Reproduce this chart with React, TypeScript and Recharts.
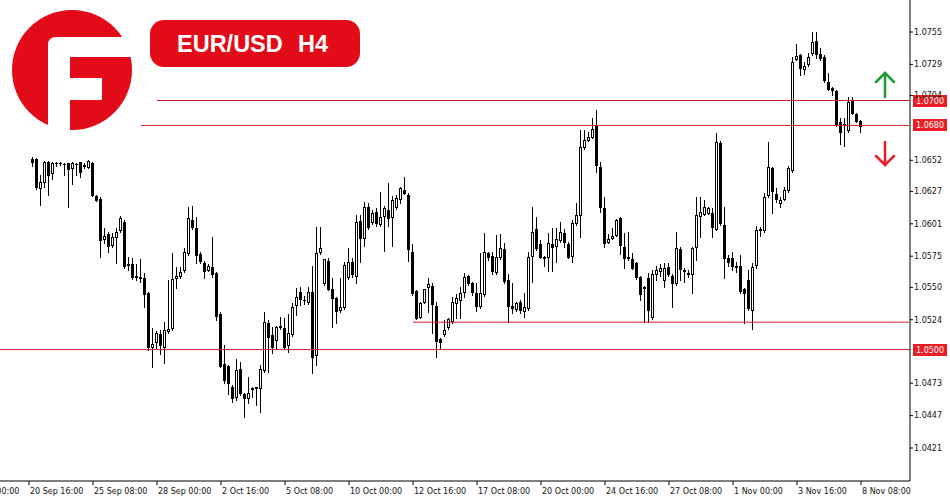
import React from 'react';
import { ComposedChart, Bar, XAxis, YAxis, ReferenceLine } from 'recharts';

const C = {
  red: '#e30b17',
  line: '#cc1f2d',
  tag: '#ec1c24',
  green: '#1f9a35',
  ink: '#111',
};
const FONT = 'DejaVu Sans, Verdana, sans-serif';

// H4 time slots that carry a label on the time axis (slot index into ROWS)
const TICK_SLOTS = [0, 16, 32, 48, 64, 80, 96, 112, 128, 144, 160, 176, 192, 208, 224];
const TICK_LABELS = [
  '18 Sep 00:00', '20 Sep 16:00', '25 Sep 08:00', '28 Sep 00:00', '2 Oct 16:00',
  '5 Oct 08:00', '10 Oct 00:00', '12 Oct 16:00', '17 Oct 08:00', '20 Oct 00:00',
  '24 Oct 16:00', '27 Oct 08:00', '1 Nov 00:00', '3 Nov 16:00', '8 Nov 08:00',
];
const PRICE_TICKS = [1.0755, 1.0729, 1.0704, 1.0652, 1.0627, 1.0601, 1.0575, 1.055, 1.0524, 1.0473, 1.0447, 1.0421];

const LEAD_SLOTS = 17; // empty slots before the first visible candle
const TAIL_SLOTS = 12; // empty shift space after the last candle

// [open, high, low, close]
const CANDLES: number[][] = [
  [1.06530, 1.06546, 1.06474, 1.06506], [1.06530, 1.06538, 1.06289, 1.06305], [1.06297, 1.06402, 1.06161, 1.06346],
  [1.06346, 1.06514, 1.06305, 1.06506], [1.06506, 1.06514, 1.06241, 1.06402], [1.06418, 1.06506, 1.06370, 1.06498],
  [1.06498, 1.06506, 1.06474, 1.06495], [1.06498, 1.06506, 1.06482, 1.06500], [1.06490, 1.06498, 1.06402, 1.06488],
  [1.06498, 1.06500, 1.06145, 1.06450], [1.06458, 1.06506, 1.06329, 1.06498], [1.06490, 1.06498, 1.06402, 1.06492],
  [1.06506, 1.06510, 1.06386, 1.06426], [1.06482, 1.06498, 1.06458, 1.06474], [1.06466, 1.06522, 1.06458, 1.06514],
  [1.06498, 1.06506, 1.06233, 1.06241], [1.06233, 1.06241, 1.06193, 1.06201], [1.06209, 1.06225, 1.05743, 1.05880],
  [1.05888, 1.05976, 1.05856, 1.05912], [1.05928, 1.05944, 1.05783, 1.05832], [1.05840, 1.05936, 1.05824, 1.05904],
  [1.05904, 1.05976, 1.05695, 1.05944], [1.05960, 1.06073, 1.05944, 1.06056], [1.06024, 1.06040, 1.05655, 1.05671],
  [1.05687, 1.05743, 1.05639, 1.05679], [1.05687, 1.05735, 1.05567, 1.05583], [1.05591, 1.05687, 1.05559, 1.05583],
  [1.05583, 1.05727, 1.05543, 1.05575], [1.05575, 1.05615, 1.05342, 1.05446], [1.05454, 1.05462, 1.04996, 1.05021],
  [1.05021, 1.05173, 1.04860, 1.05045], [1.05061, 1.05149, 1.05013, 1.05133], [1.05125, 1.05157, 1.04964, 1.05037],
  [1.05021, 1.05221, 1.04892, 1.05157], [1.05149, 1.05559, 1.05133, 1.05165], [1.05173, 1.05775, 1.05157, 1.05567],
  [1.05575, 1.05663, 1.05494, 1.05591], [1.05591, 1.05663, 1.05575, 1.05623], [1.05639, 1.05816, 1.05623, 1.05783],
  [1.05775, 1.06145, 1.05759, 1.06056], [1.06040, 1.06153, 1.05968, 1.05984], [1.05976, 1.06064, 1.05695, 1.05759],
  [1.05767, 1.05783, 1.05695, 1.05711], [1.05695, 1.05711, 1.05575, 1.05631], [1.05639, 1.05687, 1.05631, 1.05671],
  [1.05663, 1.05904, 1.05583, 1.05607], [1.05615, 1.05623, 1.05237, 1.05270], [1.05286, 1.05302, 1.04860, 1.04868],
  [1.04884, 1.05037, 1.04732, 1.04756], [1.04868, 1.04876, 1.04643, 1.04732], [1.04699, 1.04715, 1.04579, 1.04611],
  [1.04619, 1.04924, 1.04595, 1.04836], [1.04844, 1.04900, 1.04635, 1.04651], [1.04643, 1.04651, 1.04458, 1.04611],
  [1.04611, 1.04780, 1.04571, 1.04651], [1.04683, 1.04699, 1.04619, 1.04691], [1.04691, 1.04699, 1.04555, 1.04699],
  [1.04691, 1.04876, 1.04499, 1.04844], [1.04836, 1.05302, 1.04820, 1.05221], [1.05213, 1.05237, 1.04820, 1.05101],
  [1.05117, 1.05181, 1.04972, 1.05021], [1.05077, 1.05189, 1.05005, 1.05181], [1.05181, 1.05262, 1.05165, 1.05189],
  [1.05173, 1.05254, 1.05013, 1.05021], [1.05037, 1.05286, 1.04980, 1.05133], [1.05125, 1.05374, 1.05109, 1.05342],
  [1.05358, 1.05494, 1.05278, 1.05422], [1.05462, 1.05502, 1.05358, 1.05406], [1.05398, 1.05430, 1.05366, 1.05400],
  [1.05382, 1.05502, 1.05366, 1.05462], [1.05462, 1.05671, 1.04812, 1.04940], [1.04956, 1.05984, 1.04876, 1.05775],
  [1.05783, 1.05984, 1.05767, 1.05816], [1.05535, 1.05727, 1.05519, 1.05727], [1.05711, 1.05735, 1.05478, 1.05486],
  [1.05486, 1.05575, 1.05181, 1.05414], [1.05414, 1.05422, 1.05213, 1.05310], [1.05318, 1.05575, 1.05302, 1.05342],
  [1.05342, 1.05703, 1.05326, 1.05679], [1.05583, 1.05816, 1.05567, 1.05703], [1.05703, 1.05735, 1.05583, 1.05607],
  [1.05591, 1.06081, 1.05535, 1.06024], [1.06032, 1.06081, 1.05703, 1.05896], [1.05896, 1.06185, 1.05832, 1.06145],
  [1.06145, 1.06177, 1.05968, 1.05984], [1.06024, 1.06121, 1.06008, 1.06097], [1.06105, 1.06137, 1.05992, 1.06016],
  [1.06008, 1.06265, 1.05992, 1.06064], [1.06073, 1.06153, 1.05791, 1.06137], [1.06121, 1.06338, 1.05992, 1.06056],
  [1.06064, 1.06233, 1.05832, 1.06201], [1.06145, 1.06241, 1.06129, 1.06217], [1.06209, 1.06305, 1.06177, 1.06297],
  [1.06281, 1.06386, 1.06249, 1.06257], [1.06241, 1.06257, 1.05711, 1.05808], [1.05783, 1.05848, 1.05438, 1.05454],
  [1.05470, 1.05478, 1.05246, 1.05254], [1.05262, 1.05382, 1.05254, 1.05374], [1.05382, 1.05486, 1.05374, 1.05486],
  [1.05502, 1.05575, 1.05302, 1.05527], [1.05510, 1.05535, 1.05133, 1.05366], [1.05350, 1.05382, 1.04940, 1.05069],
  [1.05085, 1.05093, 1.05005, 1.05061], [1.05125, 1.05237, 1.05109, 1.05157], [1.05181, 1.05254, 1.05165, 1.05246],
  [1.05229, 1.05422, 1.05213, 1.05382], [1.05374, 1.05446, 1.05254, 1.05414], [1.05398, 1.05502, 1.05254, 1.05454],
  [1.05462, 1.05615, 1.05422, 1.05583], [1.05591, 1.05599, 1.05519, 1.05535], [1.05535, 1.05543, 1.05438, 1.05462],
  [1.05454, 1.05535, 1.05310, 1.05350], [1.05350, 1.05775, 1.05334, 1.05454], [1.05446, 1.05936, 1.05430, 1.05783],
  [1.05775, 1.05783, 1.05719, 1.05743], [1.05751, 1.05783, 1.05607, 1.05631], [1.05623, 1.05920, 1.05607, 1.05743],
  [1.05743, 1.05928, 1.05727, 1.05816], [1.05808, 1.05856, 1.05535, 1.05551], [1.05559, 1.05607, 1.05221, 1.05350],
  [1.05350, 1.05535, 1.05294, 1.05334], [1.05326, 1.05382, 1.05310, 1.05374], [1.05382, 1.05398, 1.05294, 1.05318],
  [1.05310, 1.05454, 1.05262, 1.05342], [1.05334, 1.05783, 1.05318, 1.05743], [1.05751, 1.06145, 1.05543, 1.05944],
  [1.05968, 1.06064, 1.05799, 1.05816], [1.05848, 1.05880, 1.05735, 1.05743], [1.05743, 1.05751, 1.05671, 1.05735],
  [1.05743, 1.05936, 1.05631, 1.05856], [1.05848, 1.05976, 1.05631, 1.05824], [1.05832, 1.05976, 1.05703, 1.05888],
  [1.05880, 1.06024, 1.05864, 1.05944], [1.05936, 1.05968, 1.05824, 1.05864], [1.05848, 1.05864, 1.05735, 1.05743],
  [1.05751, 1.06040, 1.05703, 1.06016], [1.06016, 1.06177, 1.06000, 1.06081], [1.06081, 1.06763, 1.05904, 1.06627],
  [1.06627, 1.06763, 1.06611, 1.06683], [1.06683, 1.06747, 1.06675, 1.06707], [1.06707, 1.06859, 1.06699, 1.06771],
  [1.06795, 1.06924, 1.06426, 1.06482], [1.06466, 1.06506, 1.06105, 1.06145], [1.06137, 1.06225, 1.05824, 1.05856],
  [1.05864, 1.05928, 1.05856, 1.05888], [1.05896, 1.05976, 1.05888, 1.05912], [1.05920, 1.06048, 1.05912, 1.06040],
  [1.06056, 1.06064, 1.05767, 1.05840], [1.05824, 1.05936, 1.05655, 1.05735], [1.05743, 1.05944, 1.05719, 1.05735],
  [1.05727, 1.05775, 1.05647, 1.05655], [1.05695, 1.05703, 1.05567, 1.05583], [1.05583, 1.05591, 1.05398, 1.05446],
  [1.05502, 1.05510, 1.05221, 1.05494], [1.05575, 1.05615, 1.05221, 1.05318], [1.05262, 1.05639, 1.05246, 1.05607],
  [1.05607, 1.05671, 1.05559, 1.05639], [1.05631, 1.05687, 1.05591, 1.05655], [1.05559, 1.05695, 1.05502, 1.05655],
  [1.05663, 1.05695, 1.05591, 1.05607], [1.05591, 1.05607, 1.05342, 1.05535], [1.05535, 1.05944, 1.05519, 1.05816],
  [1.05808, 1.05824, 1.05559, 1.05647], [1.05639, 1.05655, 1.05543, 1.05631], [1.05607, 1.05639, 1.05583, 1.05615],
  [1.05607, 1.05824, 1.05454, 1.05816], [1.05824, 1.06225, 1.05719, 1.06081], [1.06073, 1.06225, 1.05904, 1.06105],
  [1.06089, 1.06201, 1.06081, 1.06145], [1.06097, 1.06145, 1.06089, 1.06137], [1.06097, 1.06137, 1.05904, 1.05984],
  [1.05968, 1.06739, 1.05960, 1.06667], [1.06659, 1.06675, 1.06000, 1.06016], [1.06000, 1.06145, 1.05575, 1.05735],
  [1.05735, 1.05759, 1.05671, 1.05703], [1.05735, 1.05783, 1.05639, 1.05671], [1.05671, 1.05703, 1.05623, 1.05667],
  [1.05671, 1.05759, 1.05454, 1.05470], [1.05486, 1.05494, 1.05213, 1.05454], [1.05559, 1.05639, 1.05318, 1.05334],
  [1.05318, 1.05695, 1.05165, 1.05663], [1.05679, 1.05992, 1.05655, 1.05960], [1.05960, 1.05984, 1.05912, 1.05968],
  [1.05960, 1.06257, 1.05944, 1.06225], [1.06241, 1.06667, 1.06225, 1.06466], [1.06458, 1.06466, 1.06097, 1.06273],
  [1.06249, 1.06297, 1.06185, 1.06209], [1.06177, 1.06225, 1.06145, 1.06201], [1.06209, 1.06305, 1.06201, 1.06281],
  [1.06281, 1.06474, 1.06265, 1.06458], [1.06442, 1.07349, 1.06426, 1.07309], [1.07333, 1.07454, 1.07325, 1.07357],
  [1.07365, 1.07373, 1.07205, 1.07261], [1.07253, 1.07309, 1.07213, 1.07277], [1.07293, 1.07381, 1.07277, 1.07349],
  [1.07381, 1.07550, 1.07365, 1.07470], [1.07478, 1.07550, 1.07341, 1.07373], [1.07373, 1.07422, 1.07325, 1.07341],
  [1.07349, 1.07365, 1.07149, 1.07165], [1.07149, 1.07221, 1.07084, 1.07092], [1.07100, 1.07108, 1.07044, 1.07084],
  [1.07076, 1.07084, 1.06795, 1.06811], [1.06827, 1.06859, 1.06651, 1.06747], [1.06811, 1.06859, 1.06635, 1.06803],
  [1.06763, 1.07028, 1.06747, 1.06988], [1.06996, 1.07028, 1.06892, 1.06900], [1.06892, 1.06900, 1.06827, 1.06835],
  [1.06835, 1.06843, 1.06747, 1.06795],
];

// horizontal levels: price, first candle index it starts from (null = full width), tag text
const LEVELS = [
  { price: 1.07, from: 31, tag: '1.0700' },
  { price: 1.068, from: 27, tag: '1.0680' },
  { price: 1.0522, from: 95, tag: null },
  { price: 1.05, from: null, tag: '1.0500' },
];

const ROWS = [
  ...Array.from({ length: LEAD_SLOTS }, () => null),
  ...CANDLES,
  ...Array.from({ length: TAIL_SLOTS }, () => null),
].map((cd, i) => (cd ? { i, o: cd[0], h: cd[1], l: cd[2], c: cd[3] } : { i, o: null, h: null, l: null, c: null }));
const LAST_SLOT = ROWS.length - 1;

function Candle(props: any) {
  const { x, y, width, height, payload } = props;
  if (!payload || payload.o == null || !isFinite(y) || !isFinite(height)) return null;
  const { o, h, l, c } = payload;
  const top = Math.min(y, y + height);
  const span = Math.abs(height);
  const toY = (p: number) => (h === l ? top : top + ((h - p) / (h - l)) * span);
  const cx = Math.round(x + width / 2 - 0.5);
  const yH = Math.round(toY(h));
  const yL = Math.round(toY(l));
  const bt = Math.round(toY(Math.max(o, c)));
  const bb = Math.round(toY(Math.min(o, c)));
  const bh = Math.max(1, bb - bt + 1);
  return (
    <g shapeRendering="crispEdges">
      <rect x={cx} y={yH} width={1} height={Math.max(1, yL - yH + 1)} fill="#000" />
      <rect x={cx - 1} y={bt} width={3} height={bh} fill="#000" />
      {c > o && bh > 2 && <rect x={cx} y={bt + 1} width={1} height={bh - 2} fill="#fff" />}
    </g>
  );
}

function TimeTick(props: any) {
  const { x, y, payload } = props;
  const idx = TICK_SLOTS.indexOf(payload.value);
  return (
    <text x={x + 1} y={y + 7} fontSize={8} fontFamily={FONT} fill={C.ink} textAnchor="start">
      {idx >= 0 ? TICK_LABELS[idx] : ''}
    </text>
  );
}

function PriceTag({ viewBox, text }: any) {
  if (!viewBox || !text) return null;
  const cy = viewBox.y;
  return (
    <g>
      <rect x={913} y={cy - 6} width={34} height={12} fill={C.tag} shapeRendering="crispEdges" />
      <text x={930} y={cy + 3} fontSize={8} fontFamily={FONT} fill="#fff" textAnchor="middle">{text}</text>
    </g>
  );
}

function Overlay() {
  return (
    <svg width={950} height={500} style={{ position: 'absolute', left: 0, top: 0, pointerEvents: 'none' }}>
      {/* logo */}
      <circle cx={72} cy={70} r={60} fill={C.red} />
      <path d="M48 45 Q48 37 56 37 L140 37 L140 57 L70 57 L70 140 L48 140 Z" fill="#fff" />
      <rect x={70} y={78} width={32} height={22} fill="#fff" />
      {/* title */}
      <rect x={150} y={20} width={210} height={47} rx={14} fill={C.red} />
      <text x={177} y={52} fontSize={23.5} fontWeight="bold" fontFamily="Liberation Sans, Arial, sans-serif" fill="#fff">EUR/USD</text>
      <text x={298} y={52} fontSize={23.5} fontWeight="bold" fontFamily="Liberation Sans, Arial, sans-serif" fill="#fff">H4</text>
      {/* arrows */}
      <g stroke={C.green} strokeWidth={2.5} fill="none" strokeLinecap="round">
        <line x1={885} y1={73} x2={885} y2={97} />
        <polyline points="876,82 885,73 894,82" />
      </g>
      <g stroke={C.tag} strokeWidth={2.5} fill="none" strokeLinecap="round">
        <line x1={885} y1={142} x2={885} y2={165} />
        <polyline points="876,156 885,165 894,156" />
      </g>
    </svg>
  );
}

export default function App() {
  return (
    <div style={{ position: 'absolute', left: 0, top: 0, width: 950, height: 500, background: '#fff', overflow: 'hidden' }}>
      <ComposedChart width={950} height={500} data={ROWS} margin={{ top: 0, right: 0, bottom: 0, left: 0 }}>
        <XAxis
          dataKey="i"
          type="category"
          height={19}
          padding={{ left: -37, right: -1 }}
          ticks={TICK_SLOTS}
          interval={0}
          tick={<TimeTick />}
          tickSize={4}
          axisLine={{ stroke: '#000' }}
          tickLine={{ stroke: '#000' }}
        />
        <YAxis
          orientation="right"
          width={40}
          type="number"
          domain={[1.03945, 1.07807]}
          allowDataOverflow
          ticks={PRICE_TICKS}
          interval={0}
          tickFormatter={(v: number) => v.toFixed(4)}
          tick={{ fontSize: 8, fontFamily: FONT, fill: C.ink }}
          tickSize={3}
          tickMargin={1}
          axisLine={{ stroke: '#000' }}
          tickLine={{ stroke: '#000' }}
        />
        <Bar
          dataKey={(d: any) => (d.o == null ? null : [d.l, d.h])}
          shape={<Candle />}
          isAnimationActive={false}
        />
        {LEVELS.map((lv) =>
          lv.from == null ? (
            <ReferenceLine key={lv.price} y={lv.price} stroke={C.line} strokeWidth={1}
              label={<PriceTag text={lv.tag} />} />
          ) : (
            <ReferenceLine key={lv.price}
              segment={[{ x: lv.from + LEAD_SLOTS, y: lv.price }, { x: LAST_SLOT, y: lv.price }]}
              stroke={C.line} strokeWidth={1}
              label={<PriceTag text={lv.tag} />} />
          )
        )}
      </ComposedChart>
      <Overlay />
    </div>
  );
}
